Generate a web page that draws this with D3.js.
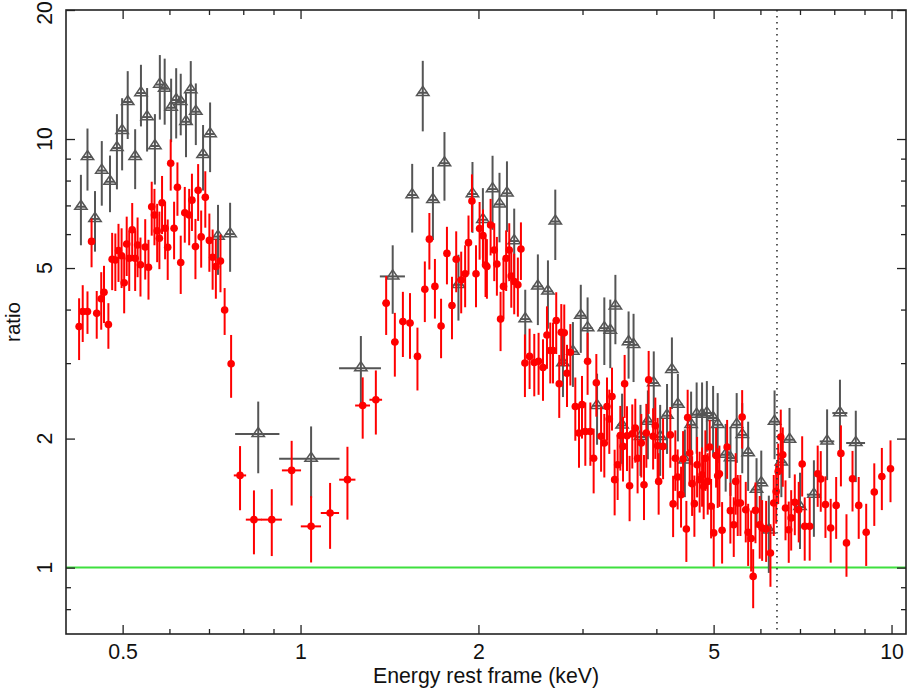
<!DOCTYPE html>
<html>
<head>
<meta charset="utf-8">
<script src="https://cdn.jsdelivr.net/npm/d3@7"></script>
<style>
  body { margin: 0; background: #fff; }
  svg { display: block; font-family: "Liberation Sans", Arial, Helvetica, sans-serif; }
</style>
</head>
<body>
<svg id="chart" width="909" height="688"></svg>
<script>
// first data set (grey open triangles): energy (keV), ratio, 1-sigma error, half bin width
var blackE = [0.425, 0.436, 0.449, 0.461, 0.476, 0.489, 0.499, 0.510, 0.525, 0.537, 0.550, 0.567,
    0.578, 0.589, 0.604, 0.616, 0.627, 0.640, 0.652, 0.665, 0.684, 0.703, 0.725, 0.760,
    0.848, 1.042, 1.265, 1.432, 1.545, 1.61, 1.675, 1.752, 1.85, 1.954, 2.035, 2.113,
    2.171, 2.235, 2.299, 2.40, 2.521, 2.622, 2.698, 2.78, 2.89, 2.98, 3.06, 3.175,
    3.266, 3.343, 3.41, 3.50, 3.59, 3.66, 3.76, 3.87, 3.96, 4.06, 4.17, 4.25,
    4.35, 4.47, 4.58, 4.68, 4.78, 4.87, 4.99, 5.08, 5.24, 5.34, 5.47, 5.59,
    5.72, 5.91, 6.02, 6.20, 6.34, 6.51, 6.72, 7.0, 7.39, 7.78, 8.18, 8.70];
var blackR = [6.95, 9.08, 6.51, 8.44, 7.95, 9.53, 10.45, 12.2, 9.09, 12.8, 11.25, 9.63,
    13.4, 13.1, 11.83, 12.33, 12.2, 10.97, 13.0, 11.58, 9.18, 10.27, 5.92, 6.0,
    2.05, 1.795, 2.92, 4.78, 7.40, 12.82, 7.21, 8.78, 4.57, 7.44, 6.48, 7.64,
    7.04, 7.47, 5.78, 3.80, 4.53, 4.41, 6.42, 3.0, 3.19, 3.87, 3.62, 2.385,
    3.62, 3.57, 4.07, 2.146, 3.36, 3.31, 2.017, 2.19, 2.695, 2.017, 2.262, 2.894,
    2.40, 1.78, 2.154, 2.274, 2.274, 2.294, 2.234, 2.154, 1.834, 1.80, 2.154, 2.04,
    1.85, 1.52, 1.575, 1.222, 2.19, 1.76, 1.988, 1.385, 1.48, 1.97, 2.294, 1.953];
var blackErr = [1.3, 1.5, 1.05, 1.45, 1.2, 1.9, 2.0, 2.2, 1.45, 2.1, 1.9, 1.8,
    2.3, 2.3, 2.0, 2.3, 2.0, 1.9, 2.2, 1.9, 1.6, 1.9, 1.1, 1.1,
    0.39, 0.34, 0.55, 0.87, 1.35, 2.4, 1.4, 1.6, 0.8, 1.4, 1.2, 1.5,
    1.3, 1.4, 1.1, 0.65, 0.85, 0.8, 1.2, 0.5, 0.55, 0.7, 0.65, 0.45,
    0.65, 0.65, 0.75, 0.4, 0.6, 0.6, 0.38, 0.4, 0.5, 0.38, 0.42, 0.55,
    0.43, 0.32, 0.42, 0.43, 0.43, 0.43, 0.42, 0.4, 0.33, 0.33, 0.4, 0.38,
    0.34, 0.28, 0.3, 0.25, 0.4, 0.3, 0.37, 0.28, 0.3, 0.37, 0.45, 0.37];
var blackDE = [0.008, 0.008, 0.008, 0.008, 0.008, 0.008, 0.008, 0.009, 0.009, 0.009, 0.009, 0.009,
    0.009, 0.009, 0.01, 0.01, 0.01, 0.01, 0.01, 0.011, 0.011, 0.012, 0.012, 0.014,
    0.073, 0.122, 0.103, 0.07, 0.03, 0.03, 0.032, 0.034, 0.036, 0.038, 0.04, 0.04,
    0.042, 0.043, 0.045, 0.047, 0.05, 0.05, 0.052, 0.054, 0.056, 0.058, 0.06, 0.062,
    0.064, 0.065, 0.066, 0.068, 0.07, 0.071, 0.073, 0.075, 0.077, 0.079, 0.081, 0.083,
    0.085, 0.087, 0.089, 0.091, 0.093, 0.095, 0.097, 0.099, 0.1, 0.104, 0.107, 0.109,
    0.11, 0.115, 0.117, 0.12, 0.124, 0.127, 0.13, 0.15, 0.2, 0.22, 0.24, 0.32];

// second data set (red filled circles)
var redE = [0.422, 0.428, 0.436, 0.443, 0.452, 0.460, 0.465, 0.473, 0.480, 0.486, 0.492, 0.498,
    0.503, 0.508, 0.513, 0.519, 0.525, 0.530, 0.536, 0.546, 0.553, 0.560, 0.566, 0.572,
    0.577, 0.583, 0.590, 0.596, 0.603, 0.611, 0.619, 0.627, 0.637, 0.648, 0.655, 0.664,
    0.671, 0.679, 0.690, 0.701, 0.710, 0.719, 0.732, 0.744, 0.763,
    0.790, 0.834, 0.894, 0.966, 1.042, 1.122, 1.2005, 1.274, 1.341,
    1.396, 1.444, 1.490, 1.532, 1.577, 1.623, 1.652, 1.688, 1.729, 1.769, 1.804, 1.834,
    1.87, 1.899, 1.924, 1.95, 1.981, 2.009, 2.036, 2.056, 2.067, 2.097, 2.127, 2.149,
    2.18, 2.205, 2.228, 2.255, 2.273, 2.299, 2.332, 2.36, 2.397, 2.441, 2.486, 2.528,
    2.572, 2.612, 2.646, 2.674, 2.708, 2.74, 2.762, 2.794, 2.824, 2.861, 2.917, 2.959,
    2.994, 3.033, 3.06, 3.093, 3.133, 3.166, 3.225, 3.266, 3.30, 3.33, 3.365, 3.40,
    3.44, 3.476, 3.513, 3.535, 3.568, 3.604, 3.642, 3.685, 3.718, 3.772, 3.812, 3.847,
    3.882, 3.95, 3.984, 4.02, 4.036, 4.106, 4.224, 4.27, 4.307, 4.346, 4.404, 4.439,
    4.496, 4.519, 4.555, 4.598, 4.639, 4.688, 4.735, 4.78, 4.81, 4.842, 4.886, 4.924,
    4.951, 5.002, 5.048, 5.08, 5.114, 5.168, 5.27, 5.337, 5.408, 5.449, 5.492, 5.55,
    5.588, 5.667, 5.72, 5.787, 5.833, 5.885, 5.984, 6.04, 6.135, 6.239, 6.32, 6.38,
    6.43, 6.495, 6.546, 6.616, 6.70, 6.764, 6.86, 6.966, 7.06, 7.13, 7.27, 7.50,
    7.59, 7.73, 7.89, 8.06, 8.21, 8.39, 8.59, 8.80, 9.06, 9.35, 9.63, 9.96];
var redR = [3.65, 3.96, 3.96, 5.77, 3.92, 4.24, 4.39, 3.69, 5.24, 5.22, 5.49, 5.34,
    4.62, 5.69, 5.27, 6.14, 5.27, 5.66, 5.09, 5.60, 5.02, 6.95, 6.65, 6.11,
    5.87, 7.10, 6.19, 5.59, 8.78, 6.19, 7.72, 5.15, 6.73, 6.65, 7.20, 5.61,
    7.59, 5.91, 7.31, 5.80, 5.30, 5.04, 5.19, 3.99, 2.99,
    1.641, 1.294, 1.294, 1.686, 1.248, 1.341, 1.604, 2.389, 2.464,
    4.14, 3.36, 3.75, 3.72, 3.11, 4.46, 5.84, 4.53, 3.66, 5.41, 4.09, 5.24,
    4.69, 4.85, 5.73, 7.17, 4.85, 6.18, 5.95, 5.08, 5.04, 6.30, 5.51, 5.11,
    3.80, 4.53, 5.27, 5.51, 4.79, 4.65, 4.57, 5.54, 3.0, 3.11, 3.01, 3.03,
    2.93, 3.49, 3.21, 3.21, 3.77, 2.685, 3.54, 3.53, 2.84, 3.18, 2.377, 2.06,
    2.40, 2.078, 3.03, 2.078, 1.80, 2.70, 2.024, 1.953, 2.377, 2.222, 2.508, 1.604,
    1.738, 2.034, 1.918, 2.685, 2.03, 1.553, 2.053, 2.117, 1.80, 1.953, 1.561, 2.06,
    2.743, 2.024, 2.143, 1.925, 1.589, 1.918, 2.04, 1.408, 1.80, 1.627, 1.48, 1.792,
    1.231, 2.24, 1.851, 1.57, 1.41, 1.738, 1.604, 1.647, 1.547, 1.80, 1.589, 1.911,
    1.39, 1.205, 1.827, 1.638, 1.656, 1.222, 1.911, 1.358, 1.259, 1.589, 1.415, 1.415,
    2.245, 1.365, 1.209, 1.169, 0.954, 1.36, 1.259, 1.237, 1.231, 1.082, 1.415, 1.506,
    1.677, 2.017, 1.834, 1.378, 1.226, 1.306, 1.42, 1.365, 1.745, 1.248, 1.248, 1.656,
    1.61, 1.403, 1.237, 1.397, 1.847, 1.142, 1.612, 1.397, 1.209, 1.501, 1.632, 1.701];
var redErr = [0.6, 0.6, 0.45, 0.75, 0.5, 0.65, 0.67, 0.45, 0.8, 0.8, 0.85, 0.85,
    0.7, 0.9, 0.85, 0.95, 0.85, 0.9, 0.8, 0.9, 0.8, 1.0, 1.0, 0.95,
    0.9, 1.1, 0.95, 0.9, 1.2, 0.95, 1.1, 0.8, 1.0, 1.0, 1.1, 0.9,
    1.15, 0.9, 1.1, 0.9, 0.85, 0.8, 0.8, 0.5, 0.5,
    0.28, 0.22, 0.23, 0.29, 0.22, 0.235, 0.31, 0.39, 0.42,
    0.65, 0.57, 0.65, 0.65, 0.52, 0.72, 0.88, 0.72, 0.58, 0.83, 0.68, 0.85,
    0.77, 0.8, 0.9, 1.1, 0.8, 0.95, 0.9, 0.8, 0.8, 0.95, 0.85, 0.8,
    0.6, 0.72, 0.85, 0.85, 0.75, 0.75, 0.72, 0.85, 0.5, 0.5, 0.5, 0.5,
    0.48, 0.58, 0.52, 0.52, 0.62, 0.45, 0.58, 0.58, 0.47, 0.52, 0.4, 0.35,
    0.4, 0.35, 0.5, 0.35, 0.31, 0.45, 0.35, 0.33, 0.4, 0.38, 0.42, 0.28,
    0.3, 0.35, 0.33, 0.45, 0.35, 0.27, 0.35, 0.36, 0.31, 0.33, 0.27, 0.35,
    0.46, 0.33, 0.35, 0.31, 0.26, 0.31, 0.33, 0.23, 0.29, 0.26, 0.24, 0.29,
    0.2, 0.36, 0.3, 0.25, 0.23, 0.28, 0.26, 0.26, 0.25, 0.29, 0.26, 0.3,
    0.22, 0.2, 0.29, 0.26, 0.27, 0.2, 0.3, 0.22, 0.2, 0.26, 0.23, 0.23,
    0.35, 0.22, 0.2, 0.19, 0.15, 0.22, 0.21, 0.2, 0.2, 0.18, 0.23, 0.24,
    0.27, 0.32, 0.29, 0.22, 0.2, 0.21, 0.23, 0.22, 0.28, 0.21, 0.21, 0.27,
    0.26, 0.23, 0.21, 0.23, 0.3, 0.19, 0.26, 0.23, 0.2, 0.25, 0.27, 0.28];
var redDE = [0.003, 0.003, 0.003, 0.003, 0.003, 0.003, 0.003, 0.003, 0.003, 0.003, 0.003, 0.003,
    0.003, 0.003, 0.003, 0.003, 0.003, 0.003, 0.004, 0.004, 0.004, 0.004, 0.004, 0.004,
    0.004, 0.004, 0.004, 0.004, 0.004, 0.004, 0.004, 0.004, 0.005, 0.005, 0.005, 0.005,
    0.005, 0.005, 0.005, 0.005, 0.005, 0.005, 0.006, 0.006, 0.007,
    0.019, 0.026, 0.036, 0.036, 0.041, 0.04, 0.038, 0.037, 0.033,
    0.02, 0.02, 0.02, 0.02, 0.02, 0.012, 0.012, 0.012, 0.012, 0.012, 0.012, 0.012,
    0.012, 0.012, 0.012, 0.012, 0.012, 0.012, 0.012, 0.012, 0.012, 0.012, 0.012, 0.012,
    0.012, 0.012, 0.012, 0.012, 0.012, 0.012, 0.012, 0.012, 0.015, 0.015, 0.015, 0.015,
    0.015, 0.015, 0.015, 0.015, 0.015, 0.015, 0.015, 0.015, 0.015, 0.015, 0.015, 0.015,
    0.015, 0.015, 0.015, 0.015, 0.015, 0.015, 0.015, 0.015, 0.015, 0.015, 0.015, 0.015,
    0.015, 0.015, 0.015, 0.015, 0.015, 0.015, 0.015, 0.015, 0.015, 0.015, 0.015, 0.015,
    0.015, 0.02, 0.02, 0.02, 0.02, 0.02, 0.02, 0.02, 0.02, 0.02, 0.02, 0.02,
    0.02, 0.02, 0.02, 0.02, 0.02, 0.02, 0.02, 0.02, 0.02, 0.02, 0.02, 0.02,
    0.02, 0.02, 0.02, 0.02, 0.02, 0.02, 0.025, 0.025, 0.025, 0.025, 0.025, 0.025,
    0.025, 0.025, 0.025, 0.025, 0.025, 0.025, 0.025, 0.025, 0.025, 0.025, 0.025, 0.025,
    0.025, 0.025, 0.025, 0.03, 0.03, 0.03, 0.03, 0.03, 0.035, 0.035, 0.05, 0.05,
    0.05, 0.06, 0.06, 0.06, 0.06, 0.07, 0.07, 0.07, 0.08, 0.08, 0.08, 0.09];

var xMajor = [0.5, 1, 2, 5, 10];
var xMinor = [0.6, 0.7, 0.8, 0.9, 3, 4, 6, 7, 8, 9];
var yMajor = [1, 2, 5, 10, 20];
var yMinor = [0.8, 0.9, 3, 4, 6, 7, 8, 9];
var lineEnergy = 6.4;   // dotted marker line (Fe K)
var unity = 1;

window.onload = function () {
    drawChart();
};

function drawChart() {
    var svg = d3.select("#chart"),
        margin = {top: 10, right: 3, bottom: 54, left: 66},
        width = +svg.attr("width") - margin.left - margin.right,
        height = +svg.attr("height") - margin.top - margin.bottom,
        fontSize = 21.3,
        g = svg.append("g").attr("transform", "translate(" + margin.left + "," + margin.top + ")");

    var x = d3.scaleLog().domain([0.401, 10.58]).range([0, width]);
    var y = d3.scaleLog().domain([0.7, 20]).range([height, 0]);

    var black = blackE.map(function (e, i) {
        return {e: e, r: blackR[i], err: blackErr[i], de: blackDE[i]};
    });
    var red = redE.map(function (e, i) {
        return {e: e, r: redR[i], err: redErr[i], de: redDE[i]};
    });

    svg.append("defs").append("clipPath").attr("id", "clip")
        .append("rect").attr("width", width).attr("height", height);

    var plot = g.append("g").attr("clip-path", "url(#clip)");

    // ratio = 1
    plot.append("line")
        .attr("x1", 0).attr("x2", width)
        .attr("y1", y(unity)).attr("y2", y(unity))
        .attr("stroke", "#3fe03f")
        .attr("stroke-width", 2);

    // grey data set
    var bg = plot.append("g").attr("stroke", "#555").attr("stroke-width", 2).attr("fill", "none");
    bg.selectAll(".vb").data(black).enter().append("line")
        .attr("x1", function (d) { return x(d.e); })
        .attr("x2", function (d) { return x(d.e); })
        .attr("y1", function (d) { return y(d.r + d.err); })
        .attr("y2", function (d) { return y(Math.max(d.r - d.err, 0.5)); });
    bg.selectAll(".hb").data(black).enter().append("line")
        .attr("x1", function (d) { return x(d.e - d.de); })
        .attr("x2", function (d) { return x(d.e + d.de); })
        .attr("y1", function (d) { return y(d.r); })
        .attr("y2", function (d) { return y(d.r); });
    bg.selectAll("path").data(black).enter().append("path")
        .attr("d", "M0,-5.5L6.2,3.6L-6.2,3.6Z")
        .attr("stroke-width", 1.5)
        .attr("transform", function (d) { return "translate(" + x(d.e) + "," + (y(d.r) - 1) + ")"; });

    // red data set
    var rg = plot.append("g").attr("stroke", "#ff0000").attr("stroke-width", 2).attr("fill", "#ff0000");
    rg.selectAll(".vb").data(red).enter().append("line")
        .attr("x1", function (d) { return x(d.e); })
        .attr("x2", function (d) { return x(d.e); })
        .attr("y1", function (d) { return y(d.r + d.err); })
        .attr("y2", function (d) { return y(Math.max(d.r - d.err, 0.5)); });
    rg.selectAll(".hb").data(red).enter().append("line")
        .attr("x1", function (d) { return x(d.e - d.de); })
        .attr("x2", function (d) { return x(d.e + d.de); })
        .attr("y1", function (d) { return y(d.r); })
        .attr("y2", function (d) { return y(d.r); });
    rg.selectAll("circle").data(red).enter().append("circle")
        .attr("cx", function (d) { return x(d.e); })
        .attr("cy", function (d) { return y(d.r); })
        .attr("r", 3.8)
        .attr("stroke", "none");

    // dotted line at the iron line energy
    plot.append("line")
        .attr("x1", x(lineEnergy)).attr("x2", x(lineEnergy))
        .attr("y1", 0).attr("y2", height)
        .attr("stroke", "#333")
        .attr("stroke-width", 1.6)
        .attr("stroke-dasharray", "1.6,4.4");

    // ticks on all four sides, pointing inward
    function ticks(axis, vals, size, tr) {
        var a = g.append("g").attr("transform", tr)
            .call(axis.tickValues(vals).tickSize(-size).tickSizeOuter(0).tickFormat(""));
        a.select(".domain").remove();
        a.selectAll("line").attr("stroke", "#222").attr("stroke-width", 1.3);
        return a;
    }
    ticks(d3.axisBottom(x), xMinor, 5, "translate(0," + height + ")");
    ticks(d3.axisTop(x), xMajor, 9, "translate(0,0)");
    ticks(d3.axisTop(x), xMinor, 5, "translate(0,0)");
    ticks(d3.axisLeft(y), yMajor, 9, "translate(0,0)");
    ticks(d3.axisLeft(y), yMinor, 5, "translate(0,0)");
    ticks(d3.axisRight(y), yMajor, 9, "translate(" + width + ",0)");
    ticks(d3.axisRight(y), yMinor, 5, "translate(" + width + ",0)");

    var xAxis = g.append("g")
        .attr("transform", "translate(0," + height + ")")
        .call(d3.axisBottom(x).tickValues(xMajor).tickSize(-9).tickSizeOuter(0).tickPadding(9.5)
            .tickFormat(function (d) { return d; }));
    xAxis.select(".domain").remove();
    xAxis.selectAll("line").attr("stroke", "#222").attr("stroke-width", 1.3);
    xAxis.attr("font-size", fontSize).attr("font-family", null);
    xAxis.selectAll("text").attr("fill", "#111");

    // rotated y labels; the top one is kept just inside the page
    g.selectAll(".ylab").data(yMajor).enter().append("text")
        .attr("class", "ylab")
        .attr("transform", function (d) {
            return "translate(-14," + Math.max(y(d), 3) + ") rotate(-90)";
        })
        .attr("text-anchor", "middle")
        .attr("font-size", fontSize)
        .attr("fill", "#111")
        .text(function (d) { return d; });

    // frame
    g.append("rect")
        .attr("width", width).attr("height", height)
        .attr("fill", "none")
        .attr("stroke", "#222")
        .attr("stroke-width", 1.6);

    svg.append("text")
        .attr("transform", "translate(19.5," + (margin.top + height / 2) + ") rotate(-90)")
        .attr("text-anchor", "middle")
        .attr("font-size", 20.5)
        .attr("fill", "#111")
        .text("ratio");

    svg.append("text")
        .attr("x", margin.left + width / 2)
        .attr("y", 683)
        .attr("text-anchor", "middle")
        .attr("font-size", fontSize)
        .attr("fill", "#111")
        .text("Energy rest frame (keV)");
}
</script>
</body>
</html>
